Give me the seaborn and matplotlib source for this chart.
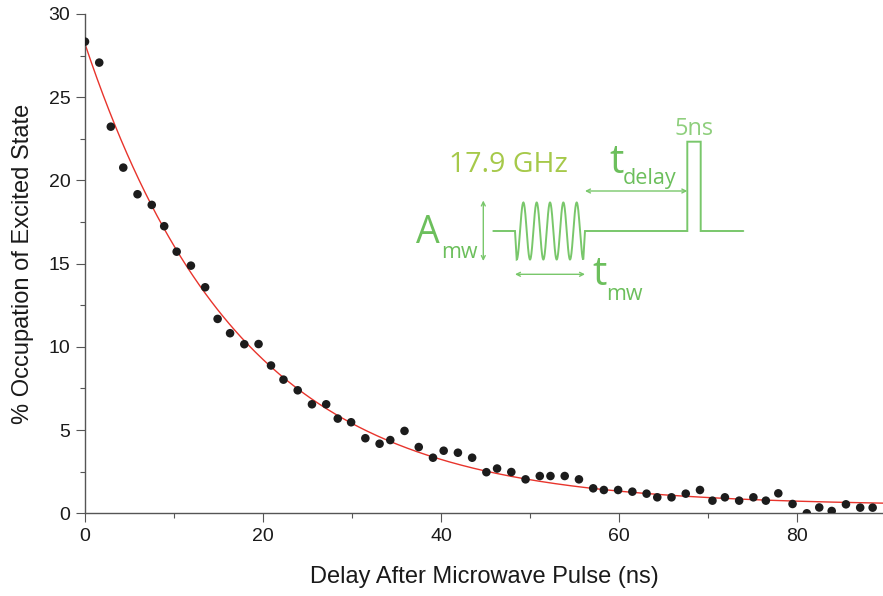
import numpy as np
import pandas as pd
import matplotlib
matplotlib.use("Agg")
import matplotlib.pyplot as plt
from matplotlib.ticker import MultipleLocator
import seaborn as sns

# ---------------- data ----------------
delay_ns = [0, 1.6, 2.9, 4.3, 5.9, 7.5, 8.9, 10.3, 11.9, 13.5, 14.9, 16.3, 17.9,
            19.5, 20.9, 22.3, 23.9, 25.5, 27.1, 28.4, 29.9, 31.5, 33.1, 34.3,
            35.9, 37.5, 39.1, 40.3, 41.9, 43.5, 45.1, 46.3, 47.9, 49.5, 51.1,
            52.3, 53.9, 55.5, 57.1, 58.3, 59.9, 61.5, 63.1, 64.3, 65.9, 67.5,
            69.1, 70.5, 71.9, 73.5, 75.1, 76.5, 77.9, 79.5, 81.1, 82.5, 83.9,
            85.5, 87.1, 88.5]
occupation = [28.34, 27.08, 23.23, 20.77, 19.17, 18.53, 17.25, 15.72, 14.88,
              13.58, 11.68, 10.82, 10.16, 10.17, 8.88, 8.03, 7.39, 6.55, 6.55,
              5.69, 5.47, 4.51, 4.18, 4.40, 4.95, 3.98, 3.34, 3.76, 3.64, 3.34,
              2.47, 2.69, 2.48, 2.04, 2.24, 2.24, 2.24, 2.04, 1.50, 1.40, 1.40,
              1.30, 1.18, 0.96, 0.96, 1.18, 1.40, 0.76, 0.96, 0.76, 0.96, 0.76,
              1.20, 0.56, 0.00, 0.35, 0.14, 0.54, 0.34, 0.34]
# exponential fit parameters
fit_amplitude = 27.75
fit_tau_ns = 17.4
fit_offset = 0.45

x_ticks = [0, 20, 40, 60, 80]
y_ticks = [0, 5, 10, 15, 20, 25, 30]
x_label = "Delay After Microwave Pulse (ns)"
y_label = "% Occupation of Excited State"

# ---------------- style ----------------
sns.set_theme(style="ticks")
plt.rcParams["font.family"] = ["Liberation Sans", "DejaVu Sans"]

W, H = 883, 596
fig = plt.figure(figsize=(W / 100, H / 100), dpi=100)
ax = fig.add_axes([85 / W, (H - 513.3) / H, (W - 85) / W, (513.3 - 14) / H])

df = pd.DataFrame({"delay": delay_ns, "occ": occupation})
fit_x = np.linspace(0, 89.7, 400)
fit_df = pd.DataFrame({"delay": fit_x,
                       "occ": fit_amplitude * np.exp(-fit_x / fit_tau_ns) + fit_offset})

sns.lineplot(data=fit_df, x="delay", y="occ", ax=ax, color="#e8342c",
             linewidth=1.0, zorder=2)
sns.scatterplot(data=df, x="delay", y="occ", ax=ax, color="#1c1c1c",
                s=38, edgecolor="none", zorder=3)

ax.set_xlim(0, (W - 85) / 8.9)
ax.set_ylim(0, 30)
ax.set_xticks(x_ticks)
ax.set_yticks(y_ticks)
ax.xaxis.set_minor_locator(MultipleLocator(10))
ax.yaxis.set_minor_locator(MultipleLocator(2.5))
sns.despine(ax=ax, top=True, right=True)
for s in ("left", "bottom"):
    ax.spines[s].set_color("#555555")
    ax.spines[s].set_linewidth(1.0)
ax.tick_params(which="major", direction="out", length=6.5, width=0.8,
               color="#555555", labelsize=14, labelcolor="#1a1a1a", pad=4)
ax.tick_params(which="minor", direction="out", length=3.3, width=0.8,
               color="#555555")
ax.set_xlabel(x_label, fontsize=17, color="#1a1a1a")
ax.set_ylabel(y_label, fontsize=17, color="#1a1a1a")
ax.xaxis.set_label_coords(0.5, -0.105)
ax.yaxis.set_label_coords(-0.064, 0.5)
ax.grid(False)
ax.set_facecolor("white")

# ---------------- inset pulse diagram (pixel coordinates) ----------------
ov = fig.add_axes([0, 0, 1, 1])
ov.set_xlim(0, W)
ov.set_ylim(H, 0)
ov.axis("off")
ov.patch.set_alpha(0)

wave_c = "#79c76b"
txt_c = "#6cbf5c"
ghz_c = "#a6c94a"
ns_c = "#8fcf7d"
lw = 1.4

# baseline left + sine burst + baseline right + 5ns pulse
base_y = 231
sx = np.linspace(516.7, 583.3, 400)
sy = base_y + 28.5 * np.cos(2 * np.pi * (sx - 516.7) / 13.33)
px = np.concatenate([[493.3, 515.0], sx, [585.0, 687.3, 687.3, 700.7, 700.7, 743.3]])
py = np.concatenate([[base_y, base_y], sy, [base_y, base_y, 141.7, 141.7, base_y, base_y]])
ov.plot(px, py, color=wave_c, lw=lw, solid_joinstyle="miter")

arrow_kw = dict(arrowstyle="<->", color=wave_c, lw=1.0, mutation_scale=7,
                shrinkA=0, shrinkB=0)
ov.annotate("", xy=(483.3, 200.5), xytext=(483.3, 261), arrowprops=arrow_kw)
ov.annotate("", xy=(515, 274.3), xytext=(585, 274.3), arrowprops=arrow_kw)
ov.annotate("", xy=(585, 191), xytext=(687.3, 191), arrowprops=arrow_kw)

ifont = ["Open Sans", "DejaVu Sans"]
ov.text(416, 243.3, "A", fontsize=27, color=txt_c, family=ifont,
        ha="left", va="baseline")
ov.text(441.5, 258, "mw", fontsize=15.5, color=txt_c, family=ifont,
        ha="left", va="baseline")
ov.text(592, 285, "t", fontsize=29, color=txt_c, family=ifont,
        ha="left", va="baseline")
ov.text(606, 300.5, "mw", fontsize=15.5, color=txt_c, family=ifont,
        ha="left", va="baseline")
ov.text(609, 173.3, "t", fontsize=29, color=txt_c, family=ifont,
        ha="left", va="baseline")
ov.text(622.5, 184, "delay", fontsize=15.5, color=txt_c, family=ifont,
        ha="left", va="baseline")
ov.text(449, 171.7, "17.9 GHz", fontsize=20.5, color=ghz_c, family=ifont,
        ha="left", va="baseline")
ov.text(675, 135, "5ns", fontsize=17, color=ns_c, family=ifont,
        ha="left", va="baseline")

fig.savefig("out.png", dpi=100, facecolor="white")
